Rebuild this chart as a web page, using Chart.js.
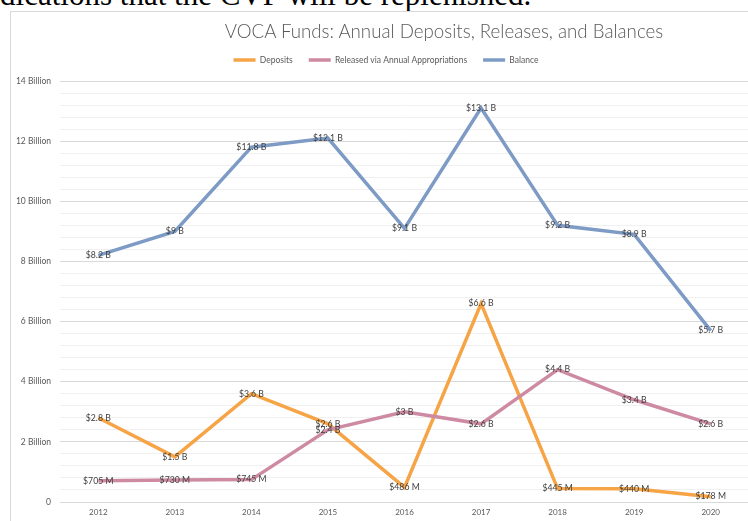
<!DOCTYPE html>
<html>
<head>
<meta charset="utf-8">
<script src="https://cdn.jsdelivr.net/npm/chart.js@4/dist/chart.umd.min.js"></script>
<style>
  html, body { margin: 0; padding: 0; width: 748px; height: 521px; overflow: hidden; background: #ffffff; }
  #lead { position: absolute; left: -24px; top: -21px; font-family: "Liberation Serif", "Times New Roman", serif; font-size: 31px; line-height: 31px; color: #000; white-space: nowrap; }
  #boxTop { position: absolute; left: 10px; top: 11px; width: 760px; height: 1px; background: #d9d9d9; }
  #boxLeft { position: absolute; left: 10px; top: 11px; width: 1px; height: 520px; background: #d9d9d9; }
  #title { position: absolute; left: 444px; top: 21px; transform: translateX(-50%); font-family: Lato, "Open Sans", sans-serif; font-weight: 300; font-size: 18.7px; line-height: 20px; color: #595959; white-space: nowrap; }
  #wrap { position: absolute; left: 10px; top: 11px; }
</style>
</head>
<body>
<div id="lead">indications that the CVF will be replenished.</div>
<div id="boxTop"></div>
<div id="boxLeft"></div>
<div id="wrap"><canvas id="c" width="752" height="515"></canvas></div>
<div id="title">VOCA Funds: Annual Deposits, Releases, and Balances</div>
<script>
const categories = ['2012', '2013', '2014', '2015', '2016', '2017', '2018', '2019', '2020'];
const deposits = [2.8, 1.5, 3.6, 2.6, 0.486, 6.6, 0.445, 0.440, 0.178];
const released = [0.705, 0.730, 0.745, 2.4, 3.0, 2.6, 4.4, 3.4, 2.6];
const balance = [8.2, 9.0, 11.8, 12.1, 9.1, 13.1, 9.2, 8.9, 5.7];
const seriesNames = ['Deposits', 'Released via Annual Appropriations', 'Balance'];
const yMajor = [0, 2, 4, 6, 8, 10, 12, 14];
const yMajorLabels = ['0', '2 Billion', '4 Billion', '6 Billion', '8 Billion', '10 Billion', '12 Billion', '14 Billion'];

const FONT = 'Lato, "Open Sans", sans-serif';

function majorIndex(v) {
  for (let i = 0; i < yMajor.length; i++) if (Math.abs(v - yMajor[i]) < 1e-6) return i;
  return -1;
}
function fmt(v) {
  if (v < 1) return '$' + Math.round(v * 1000) + ' M';
  return '$' + (+v.toFixed(1)) + ' B';
}

const dataLabels = {
  id: 'dataLabels',
  afterDatasetsDraw(chart) {
    const ctx = chart.ctx;
    ctx.save();
    ctx.font = '8.7px ' + FONT;
    ctx.fillStyle = '#404040';
    ctx.textAlign = 'center';
    ctx.textBaseline = 'middle';
    chart.data.datasets.forEach((ds, di) => {
      const meta = chart.getDatasetMeta(di);
      meta.data.forEach((pt, i) => {
        ctx.fillText(fmt(ds.data[i]), pt.x, pt.y);
      });
    });
    ctx.restore();
  }
};

const legendSpace = {
  id: 'legendSpace',
  beforeInit(chart) {
    const orig = chart.legend.fit;
    chart.legend.fit = function () {
      orig.call(chart.legend);
      this.height += 6.75;
    };
  }
};

new Chart(document.getElementById('c'), {
  type: 'line',
  data: {
    labels: categories,
    datasets: [
      { label: seriesNames[0], data: deposits, borderColor: '#F6A445', backgroundColor: '#F6A445', borderWidth: 3.5, pointRadius: 0, tension: 0, order: 3 },
      { label: seriesNames[1], data: released, borderColor: '#CE8AA3', backgroundColor: '#CE8AA3', borderWidth: 3.5, pointRadius: 0, tension: 0, order: 2 },
      { label: seriesNames[2], data: balance, borderColor: '#7D9BC5', backgroundColor: '#7D9BC5', borderWidth: 3.5, pointRadius: 0, tension: 0, order: 1 }
    ]
  },
  plugins: [dataLabels, legendSpace],
  options: {
    responsive: false,
    animation: false,
    layout: { padding: { top: 28.75, left: 0, right: 0, bottom: 4 } },
    plugins: {
      title: { display: false },
      tooltip: { enabled: false },
      legend: {
        display: true,
        position: 'top',
        labels: {
          usePointStyle: true,
          pointStyle: 'line',
          pointStyleWidth: 22,
          padding: 16,
          color: '#595959',
          font: { family: FONT, size: 8.5 },
          sort: (a, b) => a.datasetIndex - b.datasetIndex
        }
      }
    },
    scales: {
      x: {
        type: 'category',
        offset: true,
        grid: { display: false, drawTicks: false },
        border: { display: false },
        ticks: { color: '#595959', font: { family: FONT, size: 8 }, padding: 6, maxRotation: 0, autoSkip: false },
        afterFit: s => { s.height = 20; }
      },
      y: {
        position: 'left',
        min: 0,
        max: 14,
        grid: {
          drawTicks: false,
          lineWidth: 1,
          color: c => majorIndex(c.tick.value) >= 0 ? '#d9d9d9' : '#f0f0f0'
        },
        border: { display: false },
        ticks: {
          stepSize: 0.4,
          autoSkip: false,
          padding: 9,
          color: '#595959',
          font: { family: FONT, size: 8.5 },
          callback: v => { const i = majorIndex(v); return i >= 0 ? yMajorLabels[i] : ''; }
        },
        afterFit: s => { s.width = 50; }
      },
      y2: {
        position: 'right',
        display: true,
        min: 0,
        max: 14,
        grid: { display: false, drawTicks: false },
        border: { display: false },
        ticks: { display: false },
        afterFit: s => { s.width = 13; }
      }
    }
  }
});
</script>
</body>
</html>
